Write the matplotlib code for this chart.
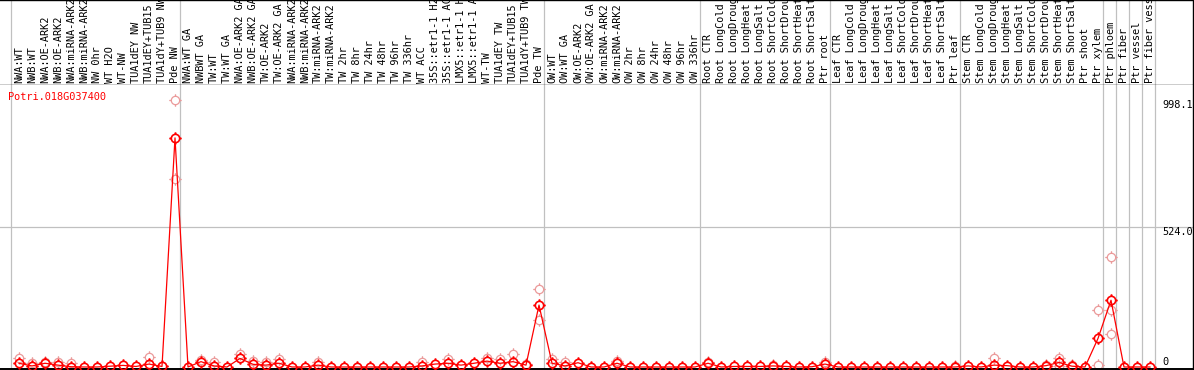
import numpy as np
import matplotlib
matplotlib.use("Agg")
import matplotlib.pyplot as plt
from matplotlib.path import Path
from matplotlib.transforms import blended_transform_factory

gene = "Potri.018G037400"

labels = [
    "NWA:WT", "NWB:WT", "NWA:OE-ARK2", "NWB:OE-ARK2", "NWA:miRNA-ARK2", "NWB:miRNA-ARK2",
    "NW 0hr", "WT H2O", "WT-NW", "TUA1dEY NW", "TUA1dEY+TUB15", "TUA1dY+TUB9 NW", "Pde NW",
    "NWA:WT GA", "NWBWT GA", "TW:WT", "TW:WT GA", "NWA:OE-ARK2 GA", "NWB:OE-ARK2 GA",
    "TW:OE-ARK2", "TW:OE-ARK2 GA", "NWA:miRNA-ARK2", "NWB:miRNA-ARK2", "TW:miRNA-ARK2",
    "TW:miRNA-ARK2", "TW 2hr", "TW 8hr", "TW 24hr", "TW 48hr", "TW 96hr", "TW 336hr",
    "WT ACC", "35S::etr1-1 H2", "35S::etr1-1 AC", "LMX5::etr1-1 H", "LMX5::etr1-1 A",
    "WT-TW", "TUA1dEY TW", "TUA1dEY+TUB15", "TUA1dY+TUB9 TW", "Pde TW",
    "OW:WT", "OW:WT GA", "OW:OE-ARK2", "OW:OE-ARK2 GA", "OW:miRNA-ARK2", "OW:miRNA-ARK2",
    "OW 2hr", "OW 8hr", "OW 24hr", "OW 48hr", "OW 96hr", "OW 336hr",
    "Root CTR", "Root LongCold", "Root LongDrought", "Root LongHeat", "Root LongSalt",
    "Root ShortCold", "Root ShortDrought", "Root ShortHeat", "Root ShortSalt", "Ptr root",
    "Leaf CTR", "Leaf LongCold", "Leaf LongDrought", "Leaf LongHeat", "Leaf LongSalt",
    "Leaf ShortCold", "Leaf ShortDrought", "Leaf ShortHeat", "Leaf ShortSalt", "Ptr leaf",
    "Stem CTR", "Stem LongCold", "Stem LongDrought", "Stem LongHeat", "Stem LongSalt",
    "Stem ShortCold", "Stem ShortDrought", "Stem ShortHeat", "Stem ShortSalt", "Ptr shoot",
    "Ptr xylem", "Ptr phloem", "Ptr fiber", "Ptr vessel", "Ptr fiber vessel",
]

# mean expression per sample
means = [
    14, 4, 14, 7, 1, 0, 0, 3, 6, 2, 11, 2, 858,
    0, 20, 4, 0, 32, 10, 7, 14, 0, 0, 7, 0, 0, 0, 0, 0, 0, 0,
    4, 11, 14, 7, 14, 22, 14, 20, 7, 232,
    14, 4, 16, 0, 0, 14, 0, 0, 0, 0, 0, 0,
    14, 0, 2, 2, 2, 4, 2, 0, 1, 11,
    0, 0, 0, 0, 0, 0, 0, 0, 0, 0,
    4, 0, 7, 5, 0, 0, 5, 17, 3, 0, 107,
    250, 0, 0, 0,
]

# individual replicates that show apart from the mean
rep_idx = [0, 1, 2, 3, 4, 10, 11, 12, 12, 14, 15, 17, 18, 19, 20, 23, 31, 33, 36, 37,
           38, 39, 40, 40, 41, 42, 46, 53, 58, 62, 72, 75, 79, 80, 80, 81, 83, 83,
           84, 84, 84]
rep_vals = [33, 16, 17, 17, 14, 39, 5, 998.1, 704, 26, 20, 49, 24, 17, 30, 20, 20, 29, 32, 29,
            49, 10, 292, 176, 29, 17, 24, 17, 7, 20, 3, 35, 7, 35, 5, 8, 213, 7,
            411, 213, 124]

group_ends = [-1, 12, 40, 52, 62, 72, 83, 84, 85, 86, 87]
ytick_vals = [998.1, 524.0, 0]

# circle marker with four small ticks
circ = Path.unit_circle()
ticks = [Path([(0, 1), (0, 1.5)]), Path([(0, -1), (0, -1.5)]),
         Path([(1, 0), (1.5, 0)]), Path([(-1, 0), (-1.5, 0)])]
tick_circle = Path.make_compound_path(circ, *ticks)

W, H = 1194, 370
fig = plt.figure(figsize=(W / 100, H / 100), dpi=100)
mono = "DejaVu Sans Mono"
fs = 7.4
grid_c = "#c0c0c0"

x = np.arange(len(labels))
xlim = (-19 / 13, (1193 - 19) / 13)

head = fig.add_axes([0, (H - 85) / H, 1193 / W, 85 / H])
ax = fig.add_axes([0, 1 / H, 1193 / W, 284 / H])

for a in (head, ax):
    a.set_xlim(*xlim)
    a.set_xticks([])
    a.set_yticks([])
    a.spines["left"].set_visible(False)
    for s in ("top", "bottom", "right"):
        a.spines[s].set_color("black")
        a.spines[s].set_linewidth(1.0)
    for k in group_ends:
        a.axvline(k + 0.39, color=grid_c, lw=0.9, zorder=1)
ax.spines["top"].set_visible(False)
ax.spines["bottom"].set_linewidth(1.4)

head.set_ylim(0, 1)
for i, lab in enumerate(labels):
    head.text(i, 2 / 85, lab, rotation=90, ha="center", va="bottom",
              family=mono, fontsize=fs, color="black", clip_on=True)

ax.set_ylim(-7.5, 1056)
ax.axhline(524, color=grid_c, lw=0.9, zorder=1)

ax.plot(rep_idx, rep_vals, ls="none", marker=tick_circle, markersize=9,
        markerfacecolor="none", markeredgecolor="#eb9a9a", markeredgewidth=0.9, zorder=2)
ax.plot(x, means, color="red", lw=0.9, marker=tick_circle, markersize=9,
        markerfacecolor="none", markeredgecolor="red", markeredgewidth=1.2, zorder=3)

ax.text(8 / 1193, (369 - 97) / 284, gene, transform=ax.transAxes, ha="left", va="center",
        family=mono, fontsize=fs, color="red")

tr = blended_transform_factory(ax.transAxes, ax.transData)
for v in ytick_vals:
    ax.text(1162 / 1193, v, "0" if v == 0 else f"{v:.1f}", transform=tr, ha="left",
            va="bottom" if v == 0 else "top", family=mono, fontsize=fs, color="black")

fig.savefig("out.png", dpi=100)
